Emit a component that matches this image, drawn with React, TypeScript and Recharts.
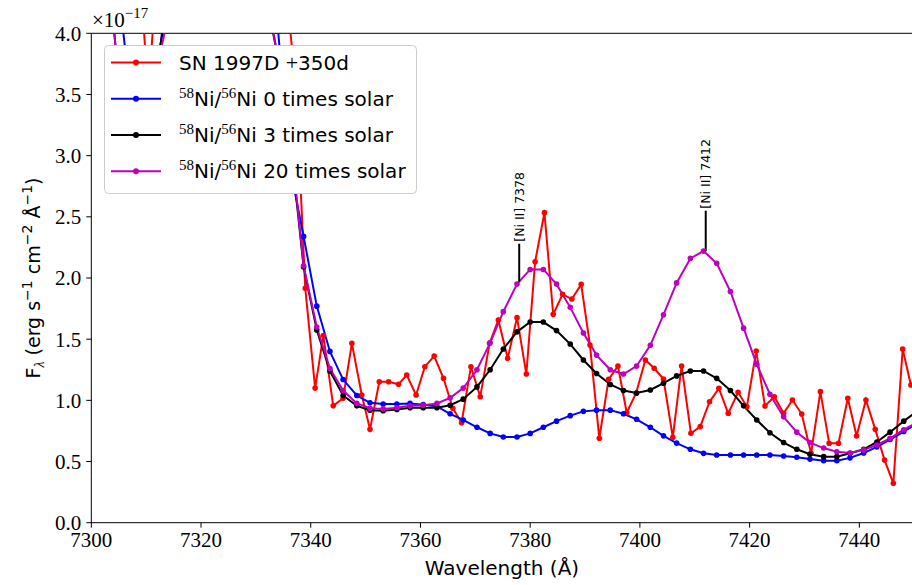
import React from 'react';
import { LineChart, Line, XAxis, YAxis, ReferenceLine, ReferenceDot, Legend } from 'recharts';

// Observed spectrum (SN 1997D +350d), wavelength in Angstrom, flux in 1e-17 units
const obsWavelength = [
  7300.3, 7302.0, 7303.7, 7305.4, 7307.0, 7308.7, 7310.4, 7312.1, 7313.8, 7315.4, 7317.1, 7318.8,
  7320.5, 7322.2, 7323.8, 7325.5, 7327.2, 7328.9, 7330.6, 7332.2, 7333.9, 7335.6, 7337.3,
  7339.0, 7340.8, 7342.3, 7344.1, 7345.9, 7347.5, 7349.3, 7350.8, 7352.5, 7354.2, 7356.0, 7357.5,
  7359.2, 7360.8, 7362.5, 7364.2, 7365.9, 7367.5, 7369.2, 7370.9, 7372.6, 7374.2, 7375.9, 7377.6,
  7379.3, 7380.9, 7382.6, 7384.2, 7385.9, 7387.6, 7389.3, 7390.9, 7392.6, 7394.3, 7396.0, 7397.6,
  7399.3, 7401.0, 7402.6, 7404.3, 7406.0, 7407.6, 7409.3, 7411.0, 7412.7, 7414.4, 7416.1, 7417.9,
  7419.5, 7421.2, 7422.8, 7424.5, 7426.2, 7427.8, 7429.5, 7431.2, 7432.9, 7434.5, 7436.2, 7437.9,
  7439.5, 7441.2, 7442.9, 7444.6, 7446.2, 7447.9, 7449.4,
];
const obsFlux = [
  7.0, 7.0, 6.5, 6.0, 5.5, 4.6, 3.5, 4.6, 5.5, 6.0, 5.5, 5.5,
  6.0, 6.5, 7.0, 7.5, 8.0, 8.5, 8.0, 7.0, 6.0, 4.3, 3.58,
  1.916, 1.1, 1.53, 0.955, 1.017, 1.466, 1.044, 0.763, 1.152, 1.152, 1.131, 1.207,
  1.044, 1.275, 1.362, 1.18, 0.935, 0.817, 1.275, 1.03, 1.466, 1.657, 1.344, 1.676,
  1.215, 2.133, 2.534, 1.703, 1.867, 1.828, 1.948, 1.452, 0.69, 1.172, 1.281, 0.899,
  1.058, 1.33, 1.262, 1.174, 0.698, 1.281, 0.731, 0.785, 0.989, 1.098, 0.894, 1.066,
  0.948, 1.403, 0.954, 1.03, 0.894, 1.003, 0.888, 0.567, 1.071, 0.649, 0.649, 1.017,
  0.709, 1.003, 0.763, 0.512, 0.322, 1.42, 1.125,
];

// Model spectra grid
const modelWavelength = [
  7302.2, 7304.6, 7307.1, 7309.5, 7311.9, 7314.3, 7316.8, 7319.2, 7321.6, 7324.1, 7326.5, 7328.9,
  7331.4, 7333.8, 7336.2, 7338.7, 7341.1, 7343.5, 7345.9, 7348.4, 7350.8, 7353.2, 7355.7, 7358.1,
  7360.5, 7363.0, 7365.4, 7367.8, 7370.3, 7372.7, 7375.1, 7377.6, 7380.0, 7382.4, 7384.8, 7387.3,
  7389.7, 7392.1, 7394.6, 7397.0, 7399.4, 7401.9, 7404.3, 7406.7, 7409.2, 7411.6, 7414.0, 7416.5,
  7418.9, 7421.3, 7423.7, 7426.2, 7428.6, 7431.0, 7433.5, 7435.9, 7438.3, 7440.8, 7443.2, 7445.6,
  7448.1, 7450.5,
];
const ni0Flux = [
  6.0, 4.5, 3.5, 3.3, 3.6, 4.6, 6.5, 8.0, 9.0, 9.0, 8.0, 6.5, 5.2, 4.15, 2.91,
  2.34, 1.77, 1.4, 1.17, 1.04, 0.98, 0.97, 0.97, 0.975, 0.965,
  0.95, 0.89, 0.84, 0.78, 0.73, 0.7, 0.7, 0.73, 0.78, 0.83,
  0.875, 0.91, 0.92, 0.92, 0.89, 0.845, 0.78, 0.71, 0.65, 0.6,
  0.567, 0.553, 0.553, 0.553, 0.553, 0.553, 0.545, 0.535, 0.52, 0.507,
  0.507, 0.53, 0.57, 0.62, 0.68, 0.745, 0.81,
];
const ni3Flux = [
  5.0, 3.8, 3.4, 3.3, 3.75, 4.3, 6.0, 7.5, 8.5, 8.5, 7.5, 6.0, 4.4, 3.85, 3.15,
  2.09, 1.575, 1.24, 1.04, 0.955, 0.92, 0.915, 0.925, 0.94, 0.94,
  0.94, 0.96, 1.01, 1.11, 1.25, 1.42, 1.56, 1.64, 1.64, 1.57,
  1.46, 1.33, 1.22, 1.13, 1.08, 1.06, 1.085, 1.14, 1.2, 1.24,
  1.24, 1.18, 1.08, 0.955, 0.84, 0.735, 0.655, 0.6, 0.56, 0.54,
  0.54, 0.567, 0.6, 0.66, 0.74, 0.83, 0.91,
];
const ni20Flux = [
  5.0, 3.8, 3.4, 3.3, 3.7, 4.2, 6.0, 7.5, 8.5, 8.5, 7.5, 6.0, 4.5, 3.85, 3.2,
  2.1, 1.6, 1.26, 1.08, 0.975, 0.935, 0.93, 0.94, 0.955, 0.96,
  0.975, 1.02, 1.1, 1.25, 1.47, 1.725, 1.95, 2.07, 2.07, 1.95,
  1.76, 1.55, 1.37, 1.25, 1.215, 1.28, 1.45, 1.7, 1.96, 2.16,
  2.22, 2.12, 1.89, 1.59, 1.295, 1.05, 0.865, 0.74, 0.655, 0.61,
  0.58, 0.57, 0.595, 0.635, 0.69, 0.76, 0.82,
];

const xTicks = [7300, 7320, 7340, 7360, 7380, 7400, 7420, 7440];
const yTicks = [0, 0.5, 1.0, 1.5, 2.0, 2.5, 3.0, 3.5, 4.0];

const lineIds = [
  { wl: 7378, low: 1.97, high: 2.28, label: '[Ni II] 7378' },
  { wl: 7412, low: 2.22, high: 2.55, label: '[Ni II] 7412' },
];

const seriesColors = ['#ff0000', '#0000ff', '#000000', '#bf00bf'];
const seriesMultipliers = ['0', '3', '20'];

const obsData = obsWavelength.map((x, i) => ({ x, y: obsFlux[i] }));
const ni0Data = modelWavelength.map((x, i) => ({ x, y: ni0Flux[i] }));
const ni3Data = modelWavelength.map((x, i) => ({ x, y: ni3Flux[i] }));
const ni20Data = modelWavelength.map((x, i) => ({ x, y: ni20Flux[i] }));

const SANS = 'DejaVu Sans';
const SERIF = 'Liberation Serif';

function LegendBox() {
  const rowY = [17.6, 53.8, 90, 126.2];
  return (
    <svg width={314} height={150} style={{ display: 'block' }}>
      <rect x={0.5} y={0.5} width={312} height={148} rx={4} ry={4} fill="#ffffff" stroke="#cccccc" strokeWidth={1} />
      {rowY.map((y, i) => (
        <g key={i}>
          <line x1={7} x2={57} y1={y} y2={y} stroke={seriesColors[i]} strokeWidth={2} />
          <circle cx={32} cy={y} r={3} fill={seriesColors[i]} />
          <text x={75} y={y + 7} fontFamily={SANS} fontSize={20} fill="#000">
            {i === 0 ? (
              <>SN 1997D <tspan fontFamily={SERIF} fontSize={22}>+</tspan>350d</>
            ) : (
              <>
                <tspan fontFamily={SERIF} fontSize={15} dy={-8}>58</tspan>
                <tspan dy={8}>Ni/</tspan>
                <tspan fontFamily={SERIF} fontSize={15} dy={-8}>56</tspan>
                <tspan dy={8}>{`Ni ${seriesMultipliers[i - 1]} times solar`}</tspan>
              </>
            )}
          </text>
        </g>
      ))}
    </svg>
  );
}

export default function App() {
  const dotStyle = (c: string) => ({ r: 2.8, fill: c, stroke: c, strokeWidth: 0 });
  return (
    <div style={{ position: 'absolute', left: 0, top: 0, width: 912, height: 585, background: '#fff' }}>
      <LineChart width={912} height={585} margin={{ top: 33.3, right: 0, left: 0, bottom: 0 }}>
        <XAxis
          type="number"
          dataKey="x"
          domain={[7300, 7449.6]}
          ticks={xTicks}
          interval={0}
          allowDataOverflow
          height={62.3}
          tickSize={5}
          tickMargin={4}
          axisLine={{ stroke: '#000', strokeWidth: 1 }}
          tickLine={{ stroke: '#000', strokeWidth: 1 }}
          tick={{ fontFamily: SERIF, fontSize: 21, fill: '#000' }}
          label={{
            content: () => (
              <text x={502} y={575} textAnchor="middle" fontFamily={SANS} fontSize={20} fill="#000">
                Wavelength (Å)
              </text>
            ),
          }}
        />
        <YAxis
          type="number"
          domain={[0, 4]}
          ticks={yTicks}
          interval={0}
          allowDataOverflow
          width={91.3}
          tickSize={5}
          tickMargin={5}
          tickFormatter={(v: number) => v.toFixed(1)}
          axisLine={{ stroke: '#000', strokeWidth: 1 }}
          tickLine={{ stroke: '#000', strokeWidth: 1 }}
          tick={{ fontFamily: SERIF, fontSize: 21, fill: '#000' }}
          label={{
            content: () => (
              <g>
                <text
                  x={40}
                  y={278}
                  transform="rotate(-90, 40, 278)"
                  textAnchor="middle"
                  fontFamily={SANS}
                  fontSize={19}
                  fill="#000"
                >
                  F<tspan fontFamily={SERIF} fontStyle="italic" fontSize={14} dy={4}>λ</tspan>
                  <tspan dy={-4}> (erg s</tspan>
                  <tspan fontSize={14} dy={-8}>−1</tspan>
                  <tspan dy={8}> cm</tspan>
                  <tspan fontSize={14} dy={-8}>−2</tspan>
                  <tspan dy={8}> Å</tspan>
                  <tspan fontSize={14} dy={-8}>−1</tspan>
                  <tspan dy={8}>)</tspan>
                </text>
                <text x={92} y={27} fontFamily={SERIF} fontSize={21} fill="#000">
                  ×10<tspan fontSize={15} dy={-9}>−17</tspan>
                </text>
              </g>
            ),
          }}
        />
        <ReferenceLine y={4} stroke="#000" strokeWidth={1} />
        <Line data={obsData} dataKey="y" type="linear" stroke={seriesColors[0]} strokeWidth={2}
          dot={dotStyle(seriesColors[0])} activeDot={false} isAnimationActive={false} />
        <Line data={ni0Data} dataKey="y" type="linear" stroke={seriesColors[1]} strokeWidth={2}
          dot={dotStyle(seriesColors[1])} activeDot={false} isAnimationActive={false} />
        <Line data={ni3Data} dataKey="y" type="linear" stroke={seriesColors[2]} strokeWidth={2}
          dot={dotStyle(seriesColors[2])} activeDot={false} isAnimationActive={false} />
        <Line data={ni20Data} dataKey="y" type="linear" stroke={seriesColors[3]} strokeWidth={2}
          dot={dotStyle(seriesColors[3])} activeDot={false} isAnimationActive={false} />
        {lineIds.map((l) => (
          <ReferenceLine
            key={'seg' + l.wl}
            segment={[{ x: l.wl, y: l.low }, { x: l.wl, y: l.high }]}
            stroke="#000"
            strokeWidth={2}
          />
        ))}
        {lineIds.map((l) => (
          <ReferenceDot
            key={'lab' + l.wl}
            x={l.wl}
            y={l.high}
            r={0}
            shape={(p: any) => (
              <text
                x={p.cx + 4.5}
                y={p.cy - 2}
                transform={`rotate(-90, ${p.cx + 4.5}, ${p.cy - 2})`}
                textAnchor="start"
                fontFamily={SANS}
                fontSize={12.5}
                fill="#000"
              >
                {l.label}
              </text>
            )}
          />
        ))}
        <Legend
          layout="vertical"
          align="center"
          verticalAlign="middle"
          content={() => <LegendBox />}
          wrapperStyle={{ left: 104, top: 45, width: 314, height: 150 }}
        />
      </LineChart>
    </div>
  );
}
